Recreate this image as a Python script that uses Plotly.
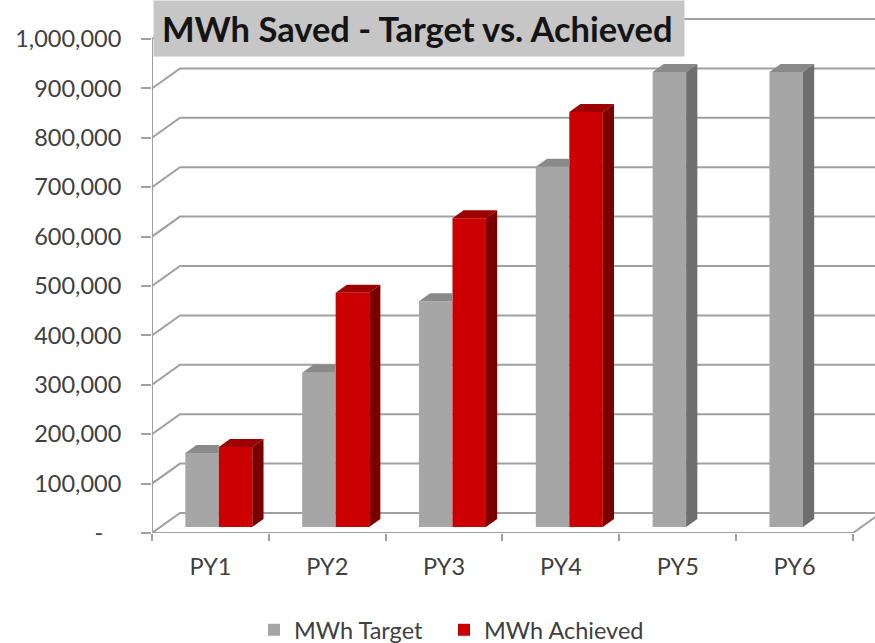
import plotly.graph_objects as go

# ---------------- data ----------------
categories = ["PY1", "PY2", "PY3", "PY4", "PY5", "PY6"]
target_mwh = [150000, 312000, 457000, 729000, 921000, 921000]
achieved_mwh = [162000, 474000, 625000, 840000, None, None]
series_names = ["MWh Target", "MWh Achieved"]
tick_values = [0, 100000, 200000, 300000, 400000, 500000,
               600000, 700000, 800000, 900000, 1000000]
tick_labels = ["-", "100,000", "200,000", "300,000", "400,000", "500,000",
               "600,000", "700,000", "800,000", "900,000", "1,000,000"]
title_text = "MWh Saved - Target vs. Achieved"

# ---------------- geometry / style ----------------
W, H = 875, 643
M_L, M_R, M_T, M_B = 152, 0, 15, 110
PLOT_W = W - M_L - M_R
PLOT_H = H - M_T - M_B
CAT_PX = 116.83                  # pixels per category
VAL_PER_PX = 100000 / 49.4       # value units per pixel
WALL_DX, WALL_DY = 28, 20        # 3-D depth of the back wall (px)
BAR_PLANE = 0.3                  # bar front plane as fraction of depth
BAR_DEPTH = 0.4                  # bar depth as fraction of wall depth
GROUP_FRAC = 0.5736              # fraction of a category used by both bars

GRID = "#a0a0a0"
GRAY_FRONT, GRAY_TOP, GRAY_SIDE = "#a6a6a6", "#8a8a8a", "#6e6e6e"
RED_FRONT, RED_TOP, RED_SIDE = "#cc0000", "#9c0000", "#7a0000"
FONT = "Lato, Carlito, Calibri, sans-serif"
TXT = "#404040"


def ux(px):
    return px / CAT_PX


def uy(px):
    return px * VAL_PER_PX


n = len(categories)
idx = list(range(n))

x2_range = [-0.5, -0.5 + ux(PLOT_W)]
y2_range = [0, uy(PLOT_H)]
off_x = ux(WALL_DX * BAR_PLANE)
off_y = uy(WALL_DY * BAR_PLANE)
x_range = [x2_range[0] - off_x, x2_range[1] - off_x]
y_range = [y2_range[0] - off_y, y2_range[1] - off_y]


def fp(a, b):
    """front-plane (label axes) coordinate -> bar-axis coordinate"""
    return (a - off_x, b - off_y)


def path(pts):
    return "M " + " L ".join(f"{x},{y}" for x, y in pts)


fig = go.Figure()

fig.add_trace(go.Bar(x=idx, y=target_mwh, name=series_names[0],
                     marker=dict(color=GRAY_FRONT, line=dict(width=0)),
                     xaxis="x", yaxis="y", hoverinfo="y+name",
                     legend="legend"))
fig.add_trace(go.Bar(x=idx, y=achieved_mwh, name=series_names[1],
                     marker=dict(color=RED_FRONT, line=dict(width=0)),
                     xaxis="x", yaxis="y", hoverinfo="y+name",
                     legend="legend2"))
# helper trace for the label axes
fig.add_trace(go.Scatter(x=idx, y=[0] * n, mode="markers",
                         marker=dict(opacity=0), showlegend=False,
                         hoverinfo="skip", xaxis="x2", yaxis="y2"))

shapes = []
wdx, wdy = ux(WALL_DX), uy(WALL_DY)

# back-wall gridlines (with the diagonal on the side wall)
for t in tick_values:
    pts = [fp(-0.5, t), fp(-0.5 + wdx, t + wdy), fp(n + 1, t + wdy)]
    shapes.append(dict(type="path", path=path(pts), xref="x", yref="y",
                       line=dict(color=GRID, width=2), layer="below"))
# floor front edge + right diagonal
pts = [fp(-0.5, 0), fp(n - 0.5, 0), fp(n - 0.5 + wdx, wdy)]
shapes.append(dict(type="path", path=path(pts), xref="x", yref="y",
                   line=dict(color=GRID, width=2), layer="below"))
# vertical value axis line
pts = [fp(-0.5, 0), fp(-0.5, tick_values[-1])]
shapes.append(dict(type="path", path=path(pts), xref="x", yref="y",
                   line=dict(color=GRID, width=2), layer="below"))

# 3-D faces of the bars
half = GROUP_FRAC / 2
ddx, ddy = ux(WALL_DX * BAR_DEPTH), uy(WALL_DY * BAR_DEPTH)


def face(pts, color):
    return dict(type="path", path=path(pts) + " Z", xref="x", yref="y",
                fillcolor=color, line=dict(width=0), layer="above")


for i, (t, a) in enumerate(zip(target_mwh, achieved_mwh)):
    gl, gr = i - half, i
    if a is None:
        shapes.append(face([(gl, t), (gl + ddx, t + ddy), (gr + ddx, t + ddy), (gr, t)], GRAY_TOP))
        shapes.append(face([(gr, 0), (gr, t), (gr + ddx, t + ddy), (gr + ddx, ddy)], GRAY_SIDE))
    else:
        shapes.append(face([(gl, t), (gl + ddx, t + ddy), (gr, t + ddy), (gr, t)], GRAY_TOP))
        rl, rr = i, i + half
        shapes.append(face([(rl, a), (rl + ddx, a + ddy), (rr + ddx, a + ddy), (rr, a)], RED_TOP))
        shapes.append(face([(rr, 0), (rr, a), (rr + ddx, a + ddy), (rr + ddx, ddy)], RED_SIDE))

ticktext_y = [lab + "\u00a0" * 3 if lab == "-" else lab for lab in tick_labels]
boundaries = [i - 0.5 for i in range(n + 1)]

legend_style = dict(orientation="h", xanchor="left",
                    y=-(630 - (H - M_B)) / PLOT_H, yanchor="middle",
                    font=dict(family=FONT, size=23.5, color=TXT),
                    bgcolor="rgba(0,0,0,0)", itemwidth=30)

fig.update_layout(
    width=W, height=H,
    margin=dict(l=M_L, r=M_R, t=M_T, b=M_B, pad=0, autoexpand=False),
    paper_bgcolor="white", plot_bgcolor="rgba(0,0,0,0)",
    barmode="group", bargap=1 - GROUP_FRAC, bargroupgap=0,
    font=dict(family=FONT, size=24, color=TXT),
    xaxis=dict(range=x_range, visible=False, fixedrange=True, automargin=False),
    yaxis=dict(range=y_range, visible=False, fixedrange=True, automargin=False),
    xaxis2=dict(overlaying="x", anchor="y2", range=x2_range,
                tickmode="array", tickvals=idx, ticktext=categories,
                ticks="", showgrid=False, zeroline=False, showline=False,
                ticklabelstandoff=17, automargin=False,
                tickfont=dict(family=FONT, size=23.5, color=TXT),
                minor=dict(tickmode="array", tickvals=boundaries,
                           ticks="outside", ticklen=7, tickwidth=2,
                           tickcolor=GRID, showgrid=False),
                fixedrange=True),
    yaxis2=dict(overlaying="y", anchor="x2", side="left", range=y2_range,
                tickmode="array", tickvals=tick_values, ticktext=ticktext_y,
                ticks="outside", ticklen=10, tickwidth=2, tickcolor=GRID,
                showgrid=False, zeroline=False, showline=False,
                ticklabelstandoff=15, automargin=False,
                tickfont=dict(family=FONT, size=23.5, color=TXT),
                fixedrange=True),
    shapes=shapes,
    legend=dict(x=(254 - M_L) / PLOT_W, **legend_style),
    legend2=dict(x=(444 - M_L) / PLOT_W, **legend_style),
    annotations=[dict(
        text=f"<b>{title_text}</b>", xref="paper", yref="paper",
        x=(153 - M_L) / PLOT_W, xanchor="left",
        y=(H - M_B) / PLOT_H, yanchor="top",
        showarrow=False, align="left", valign="middle",
        bgcolor="#c6c6c6", borderpad=8, width=514, height=39,
        font=dict(family=FONT, size=34.5, color="#141414"))],
)

fig.write_html("out.html",
               config={"displayModeBar": False},
               post_script="document.body.style.margin='0px';"
                           "document.body.style.overflow='hidden';")
